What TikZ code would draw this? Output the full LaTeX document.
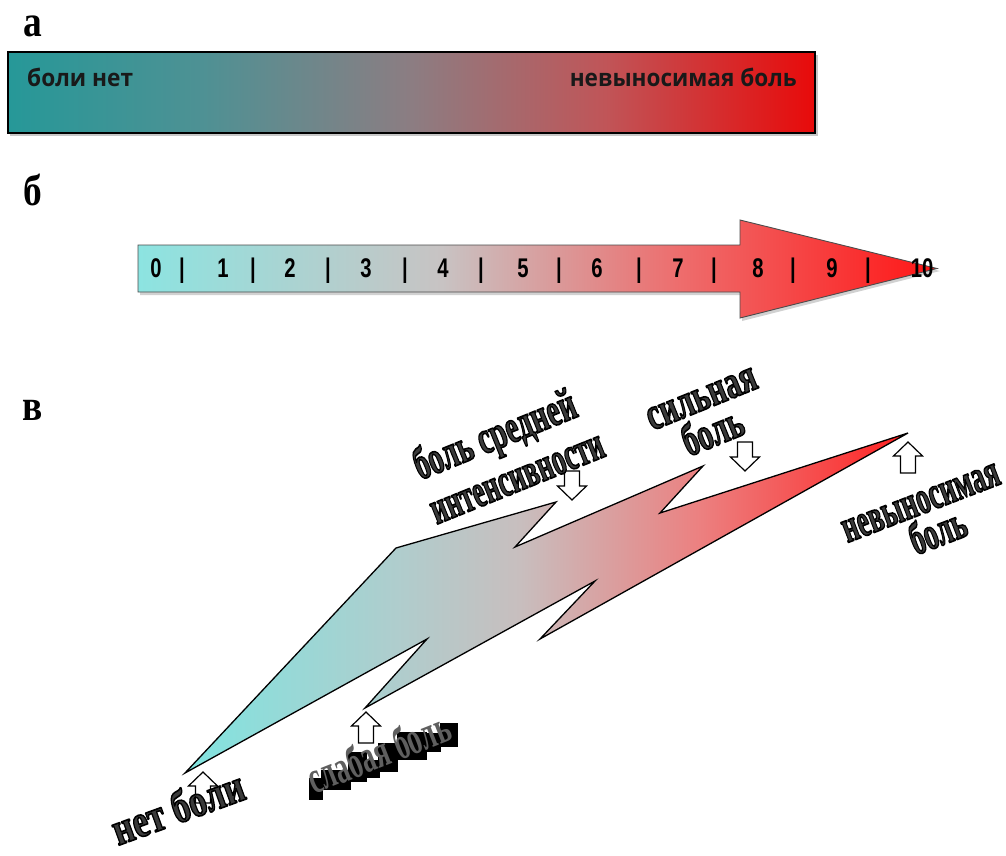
\documentclass[tikz,border=0pt]{standalone}
\usepackage{fontspec}
\usepackage{graphicx}
\setmainfont{Liberation Serif}
\newfontfamily\sansf{Open Sans}
\newfontfamily\numf{Liberation Sans}
\definecolor{wagray}{RGB}{58,58,58}
\definecolor{blkgray}{RGB}{95,95,95}
\definecolor{txtdark}{RGB}{25,25,25}
\pgfdeclarehorizontalshading{barshade}{100bp}{%
  rgb(0bp)=(0.149,0.596,0.596); rgb(25bp)=(0.149,0.596,0.596);
  rgb(37bp)=(0.306,0.569,0.580); rgb(50bp)=(0.549,0.490,0.510);
  rgb(62bp)=(0.753,0.333,0.345); rgb(75bp)=(0.910,0.040,0.040);
  rgb(100bp)=(0.910,0.040,0.040)}
\pgfdeclarehorizontalshading{arrshade}{100bp}{%
  rgb(0bp)=(0.549,0.894,0.882); rgb(25bp)=(0.549,0.894,0.882);
  rgb(44bp)=(0.784,0.765,0.765); rgb(59bp)=(0.933,0.424,0.424);
  rgb(75bp)=(1.0,0.086,0.086); rgb(100bp)=(1.0,0.086,0.086)}
\pgfdeclarehorizontalshading{boltshade}{100bp}{%
  rgb(0bp)=(0.502,0.894,0.878); rgb(25bp)=(0.502,0.894,0.878);
  rgb(39.6bp)=(0.686,0.804,0.804); rgb(48.2bp)=(0.784,0.745,0.745);
  rgb(60.6bp)=(0.925,0.502,0.502); rgb(71bp)=(0.980,0.235,0.235);
  rgb(75bp)=(1.0,0.118,0.118); rgb(100bp)=(1.0,0.118,0.118)}
% outlined (gray fill, black stroke) text via PDF text render mode 2
\newcommand{\wart}[1]{{\color{wagray}\special{pdf:code q 2 Tr 1.6 w 0 0 0 RG 1 j}#1\special{pdf:code Q}}}
\newcommand{\waf}{\fontsize{46}{50}\selectfont\bfseries}
\tikzset{
  lbl/.style={inner sep=0, anchor=base, font=\fontsize{44}{48}\selectfont\bfseries},
  atxt/.style={inner sep=0, text=txtdark, font=\sansf\fontsize{24}{28}\selectfont\bfseries},
  num/.style={inner sep=0, anchor=base, text=black, font=\numf\fontsize{27}{30}\selectfont\bfseries},
  wa/.style={inner sep=0, anchor=base, rotate=22, font=\waf},
  barr/.style={draw=black, fill=white, line width=1.2pt, line join=miter},
}
\begin{document}
\begin{tikzpicture}[x=1pt,y=-1pt]
\useasboundingbox (0,0) rectangle (1006,856);
\fill[white] (0,0) rectangle (1006,856);

% ---- a ----
\node[lbl] (la) at (33,37) {\scalebox{0.85}[1]{а}};
\fill[black!22] (10,55) rectangle (818,136);
\shade[shading=barshade, draw=black, line width=1.5pt] (8,52) rectangle (815,133);
\node[atxt, anchor=base west] (a1) at (27,87) {\resizebox{106pt}{\height}{боли нет}};
\node[atxt, anchor=base east] (a2) at (797,87) {\resizebox{227pt}{\height}{невыносимая боль}};

% ---- b ----
\node[lbl] (lb) at (33,205) {\scalebox{0.85}[1]{б}};
\fill[black!18] (140,248) -- (742,248) -- (742,223) -- (940,271) -- (742,321) -- (742,295) -- (140,295) -- cycle;
\shade[shading=arrshade, draw=black!70, line width=0.9pt, line join=miter]
  (138,245) -- (740,245) -- (740,220) -- (937,268.5) -- (740,318) -- (740,292) -- (138,292) -- cycle;
\foreach \v/\x in {0/156,1/223,2/290,3/366,4/443,5/523,6/597,7/678,8/758,9/832,10/922}
  \node[num] (n\v) at (\x,277.5) {\scalebox{0.75}[1]{\v}};
\foreach \i/\x in {1/182,2/253,3/328,4/405,5/481,6/559,7/639,8/714,9/793,10/868}
  \node[num] (s\i) at (\x,277.5) {\scalebox{0.75}[1]{|}};

% ---- v ----
\node[lbl] (lv) at (33,420) {\scalebox{0.85}[1]{в}};
\shade[shading=boltshade, draw=black, line width=1.3pt, line join=miter]
  (185,773) -- (396,548) -- (556,502) -- (515,547) -- (703,466) -- (660,513)
  -- (908,433) -- (540,639) -- (595,581) -- (365,708) -- (427,639) -- cycle;

% block arrows (up)
\foreach \x/\y in {203/772,366/712,908/442}
  \draw[barr] (\x,\y) -- ++(14.5,14) -- ++(-7,0) -- ++(0,17) -- ++(-15,0) -- ++(0,-17) -- ++(-7,0) -- cycle;
% block arrows (down)
\foreach \x/\y in {572/500,745/471}
  \draw[barr] (\x,\y) -- ++(14.5,-14) -- ++(-7,0) -- ++(0,-15) -- ++(-15,0) -- ++(0,15) -- ++(-7,0) -- cycle;

% labels
\node[wa] (w1) at (500,448) {\resizebox{172pt}{\height}{\wart{боль средней}}};
\node[wa] (w2) at (522,490) {\resizebox{184pt}{\height}{\wart{интенсивности}}};
\node[wa] (w3) at (706,409) {\resizebox{116pt}{\height}{\wart{сильная}}};
\node[wa] (w4) at (718,445) {\resizebox{63pt}{\height}{\wart{боль}}};
\node[wa, rotate=-1] (w5) at (925,513) {\resizebox{166pt}{\height}{\wart{невыносимая}}};
\node[wa, rotate=-1] (w6) at (943,545) {\resizebox{58pt}{\height}{\wart{боль}}};
\node[wa, rotate=-2] (w7) at (183,822) {\resizebox{138pt}{\height}{\wart{нет боли}}};

% слабая боль on black blocks
\fill[black] (309,778) rectangle (323,800);
\fill[black] (321,770) rectangle (351,790);
\fill[black] (348,752) rectangle (367,782);
\fill[black] (366,760) rectangle (380,778);
\fill[black] (378,743) rectangle (398,772);
\fill[black] (397,732) rectangle (427,760);
\fill[black] (426,733) rectangle (441,752);
\fill[black] (440,723) rectangle (458,747);
\node[wa, rotate=-0.5, text=blkgray] (w8) at (384,767) {\resizebox{150pt}{\height}{слабая боль}};
\end{tikzpicture}
\end{document}
